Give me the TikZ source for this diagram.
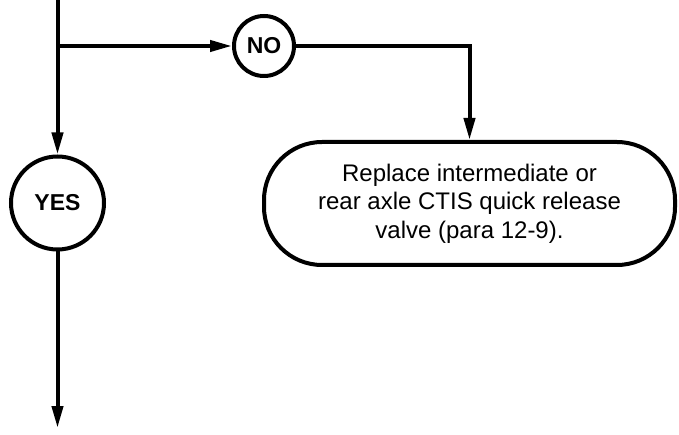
\documentclass[tikz,border=0pt]{standalone}
\usepackage{fontspec}
\setmainfont{Liberation Sans}
\usetikzlibrary{arrows.meta,positioning}

\begin{document}
\begin{tikzpicture}[
  x=1pt, y=-1pt,
  >={Triangle[length=22pt,width=11pt]},
  flow/.style={->, line width=4pt},
  answer/.style={draw, circle, line width=4pt, inner sep=0pt,
                 font=\fontsize{23}{26}\selectfont\bfseries},
  action/.style={draw, rounded corners=58pt, line width=4pt, align=center,
                 minimum width=411pt, minimum height=123pt,
                 font=\fontsize{24}{28.5}\selectfont},
]
\useasboundingbox (0,0) rectangle (679,435);

% ---- answers ------------------------------------------------------------
\node[answer, minimum size=60pt] (no)  at (264,46)   {NO};
\node[answer, minimum size=93pt] (yes) at (57.5,203) {YES};

% ---- action -------------------------------------------------------------
\node[action] (replace) at (469.5,203.5)
  {Replace intermediate or\\rear axle CTIS quick release\\valve (para 12-9).};

% ---- free ends and bends ------------------------------------------------
\coordinate (top)    at (57.5,0);
\coordinate (split)  at (57.5,46);
\coordinate (turn)   at (replace.north |- no);
\coordinate (bottom) at (57.5,428);

% ---- flow ---------------------------------------------------------------
\draw[flow] (top)   -- (yes);
\draw[flow] (split) -- (no);
\draw[flow] (no)    -- (turn) -- (replace);
\draw[flow] (yes)   -- (bottom);

\end{tikzpicture}
\end{document}
